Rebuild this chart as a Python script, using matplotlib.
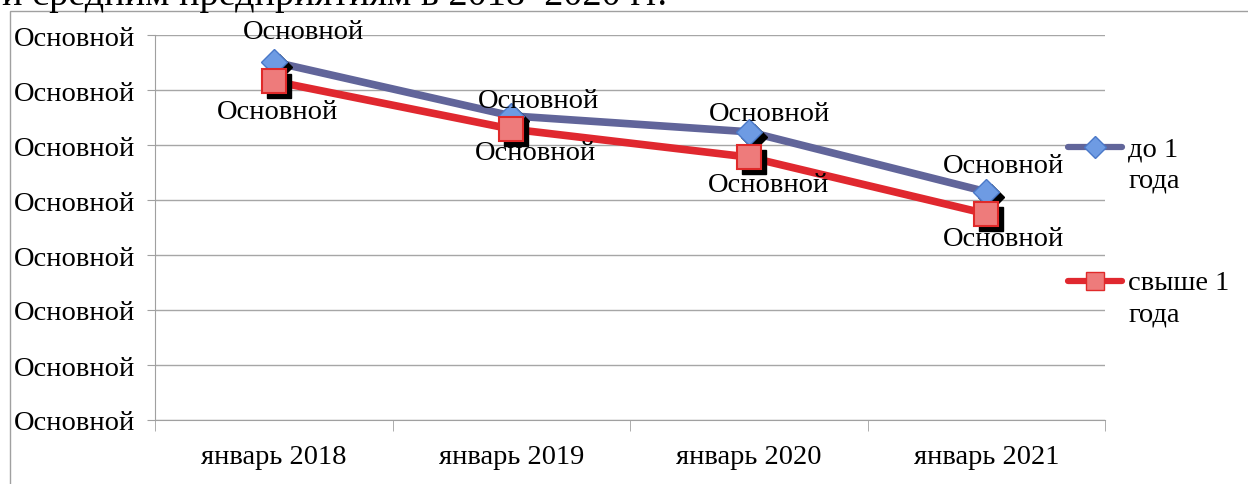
import matplotlib
matplotlib.use("Agg")
import matplotlib.pyplot as plt
import matplotlib.transforms as mtransforms
from matplotlib.lines import Line2D
from matplotlib.patches import Rectangle

plt.rcParams['font.family'] = ['Liberation Serif', 'DejaVu Serif']

# data (y in gridline units)
categories = ["январь 2018", "январь 2019", "январь 2020", "январь 2021"]
up_to_1 = [6.51, 5.53, 5.24, 4.15]
over_1 = [6.16, 5.29, 4.78, 3.75]
series_names = ["до 1\nгода", "свыше 1\nгода"]
ytick_label = "Основной"

# label offsets in pixels (as placed in the original)
blue_off = [(30, 30), (27, 15), (21, 18), (17, 26)]
red_off = [(4, -30), (24, -23), (20, -27), (17, -25)]

FS = 20.5
fig = plt.figure(figsize=(12.48, 4.85), dpi=100)
ax = fig.add_axes([155/1248, 64/485, 950/1248, 385/485])

x = list(range(len(categories)))
blue_line, blue_face, blue_edge = "#61659a", "#6e9be3", "#4a78c8"
red_line, red_face, red_edge = "#e0282f", "#ee7b7b", "#e02a2a"

shadow = mtransforms.offset_copy(ax.transData, fig=fig, x=5, y=-5, units='dots')

ax.plot(x, up_to_1, color=blue_line, lw=5.5, zorder=3, solid_capstyle='round')
ax.plot(x, over_1, color=red_line, lw=5.5, zorder=3, solid_capstyle='round')
ax.plot(x, up_to_1, ls='none', marker='D', ms=13, color='black', transform=shadow, zorder=4)
ax.plot(x, over_1, ls='none', marker='s', ms=17, color='black', transform=shadow, zorder=4)
ax.plot(x, up_to_1, ls='none', marker='D', ms=13, mfc=blue_face, mec=blue_edge, mew=1, zorder=5)
ax.plot(x, over_1, ls='none', marker='s', ms=17, mfc=red_face, mec=red_edge, mew=1.5, zorder=5)

for xi, v, off in zip(x, up_to_1, blue_off):
    ax.annotate(ytick_label, (xi, v), xytext=off, textcoords='offset pixels',
                ha='center', va='center', fontsize=FS, zorder=6)
for xi, v, off in zip(x, over_1, red_off):
    ax.annotate(ytick_label, (xi, v), xytext=off, textcoords='offset pixels',
                ha='center', va='center', fontsize=FS, zorder=6)

ax.set_xlim(-0.5, 3.5)
ax.set_ylim(0, 7)
ax.set_yticks(range(8))
ax.set_yticklabels([ytick_label] * 8, fontsize=FS)
ax.set_xticks(x)
ax.set_xticklabels(categories, fontsize=FS)
ax.set_xticks([-0.5, 0.5, 1.5, 2.5, 3.5], minor=True)
ax.tick_params(axis='x', which='major', length=0, pad=17)
ax.tick_params(axis='x', which='minor', length=8, color='#a0a0a0')
ax.tick_params(axis='y', length=6, color='#a0a0a0', pad=8)
ax.grid(axis='y', color='#a6a6a6', lw=1)
for s in ['top', 'right']:
    ax.spines[s].set_visible(False)
ax.spines['left'].set_color('#a0a0a0')
ax.spines['bottom'].set_color('#a0a0a0')

# legend drawn by hand
for (yy, col, mk, ms, fc, ec, name) in [
        (1 - 148/485, blue_line, 'D', 11, blue_face, blue_edge, series_names[0]),
        (1 - 282/485, red_line, 's', 13, red_face, red_edge, series_names[1])]:
    fig.add_artist(Line2D([1068/1248, 1122/1248], [yy, yy], color=col, lw=4.5,
                          solid_capstyle='round', transform=fig.transFigure))
    fig.add_artist(Line2D([1095/1248], [yy], ls='none', marker=mk, ms=ms, mfc=fc, mec=ec,
                          transform=fig.transFigure))
    fig.text(1128/1248, yy + 11/485, name, fontsize=FS, va='top', ha='left', linespacing=1.35)

# chart border
fig.add_artist(Rectangle((10/1248, -0.05), 1.1, 1 - 12/485 + 0.05, fill=False,
                         ec='#a0a0a0', lw=1, transform=fig.transFigure))
# cut-off heading above the chart
fig.text(2/1248, 1 - 5/485, "и средним предприятиям в 2018–2020 гг.", fontsize=27.5,
         va='baseline', ha='left')

fig.savefig("out.png", dpi=100)
